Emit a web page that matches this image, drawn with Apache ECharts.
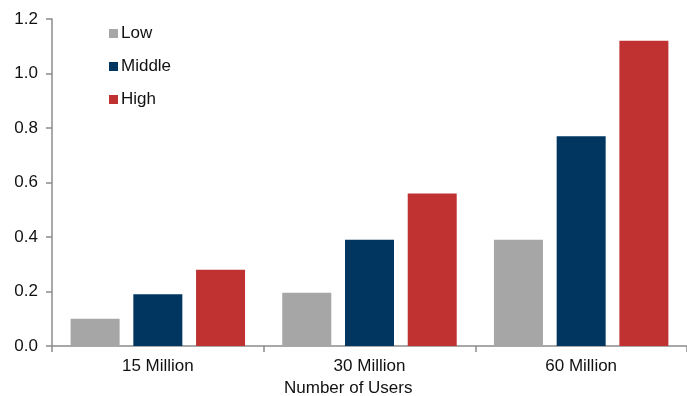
<!DOCTYPE html>
<html>
<head>
<meta charset="utf-8">
<script src="https://cdn.jsdelivr.net/npm/echarts@6/dist/echarts.min.js"></script>
<style>
  html, body { margin: 0; padding: 0; background: #fff; }
  #chart { width: 687px; height: 396px; }
</style>
</head>
<body>
<div id="chart"></div>
<script>
// Cost by user base, three scenarios
const categories = ['15 Million', '30 Million', '60 Million'];
const lowValues = [0.10, 0.195, 0.39];
const middleValues = [0.19, 0.39, 0.77];
const highValues = [0.28, 0.56, 1.12];
const yTicks = [0, 0.2, 0.4, 0.6, 0.8, 1.0, 1.2];

const FONT = 'Liberation Sans, Arial, sans-serif';
const FS = 17;
const axisGray = '#8c8c8c';

const chart = echarts.init(document.getElementById('chart'), null, { renderer: 'canvas' });

const barBase = { type: 'bar', barWidth: 49, barGap: '28%' };

chart.setOption({
  animation: false,
  backgroundColor: '#ffffff',
  grid: { left: 52, right: 0, top: 19, bottom: 50, containLabel: false },
  legend: {
    orient: 'vertical',
    left: 104,
    top: 20,
    itemWidth: 9,
    itemHeight: 9,
    itemGap: 16,
    icon: 'rect',
    textStyle: { fontFamily: FONT, fontSize: FS, color: '#111', padding: [0, 0, 0, -2] },
    data: ['Low', 'Middle', 'High']
  },
  xAxis: {
    type: 'category',
    data: categories,
    axisLine: { lineStyle: { color: axisGray, width: 1.5 } },
    axisTick: { show: true, length: 6, lineStyle: { color: axisGray, width: 1.5 } },
    axisLabel: { fontFamily: FONT, fontSize: FS, color: '#111', margin: 12 },
    splitLine: { show: false }
  },
  yAxis: {
    type: 'value',
    min: yTicks[0],
    max: yTicks[yTicks.length - 1],
    interval: 0.2,
    axisLine: { show: true, lineStyle: { color: axisGray, width: 1.5 } },
    axisTick: { show: true, length: 6, lineStyle: { color: axisGray, width: 1.5 } },
    axisLabel: {
      fontFamily: FONT, fontSize: FS, color: '#111', margin: 14,
      formatter: v => v.toFixed(1)
    },
    splitLine: { show: false }
  },
  graphic: [{
    type: 'text',
    left: 284,
    top: 380,
    style: { text: 'Number of Users', fontFamily: FONT, fontSize: FS, fill: '#111' }
  }],
  series: [
    Object.assign({ name: 'Low', data: lowValues, itemStyle: { color: '#a6a6a6' } }, barBase),
    Object.assign({ name: 'Middle', data: middleValues, itemStyle: { color: '#003660' } }, barBase),
    Object.assign({ name: 'High', data: highValues, itemStyle: { color: '#c03232' } }, barBase)
  ]
});
</script>
</body>
</html>
